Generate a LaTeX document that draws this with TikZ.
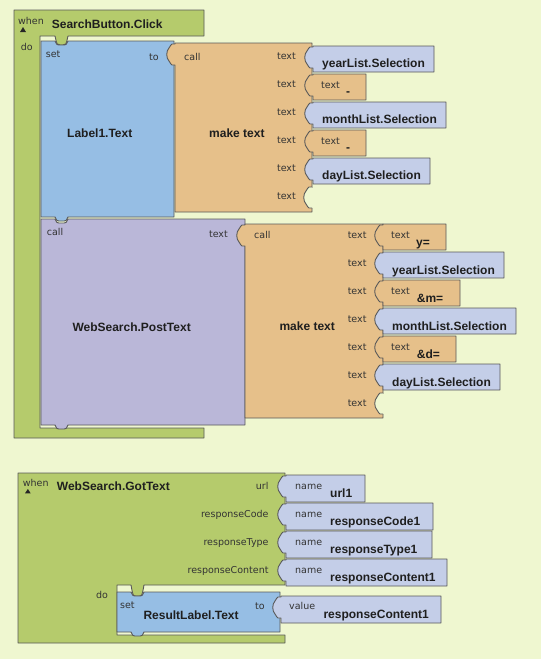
\documentclass[tikz,border=0pt]{standalone}
\usepackage{fontspec}
\newfontfamily\lblfam{DejaVu Sans}
\newfontfamily\ttlfam{Liberation Sans}
\definecolor{bgc}{RGB}{239,247,208}
\definecolor{grn}{RGB}{181,203,108}
\definecolor{setblue}{RGB}{150,190,228}
\definecolor{mkor}{RGB}{230,192,138}
\definecolor{purp}{RGB}{186,183,216}
\definecolor{argb}{RGB}{196,206,232}
\newcommand\lblfont{\lblfam\fontsize{9.5}{11}\selectfont}
\newcommand\ttlfont{\ttlfam\bfseries\fontsize{12}{14}\selectfont}
\tikzset{
  blkline/.style={draw=black!65, line width=0.9pt, line join=round},
  lbl/.style={font=\lblfont, text=black!80, inner sep=0pt},
  ttl/.style={font=\ttlfont, text=black!88, inner sep=0pt},
}
% argument block with left plug: color, x0, y0, x1, y1
\newcommand\argblk[5]{%
  \filldraw[blkline, fill=#1] ({#2},{#3}) -- ({#4},{#3}) -- ({#4},{#5}) -- ({#2},{#5}) -- ({#2},{#3+22})
   -- ({#2-3},{#3+22}) .. controls ({#2-5},{#3+22}) and ({#2-4},{#3+19}) .. ({#2-6},{#3+18})
   .. controls ({#2-9},{#3+15}) and ({#2-9},{#3+8}) .. ({#2-6},{#3+5})
   .. controls ({#2-4},{#3+4}) and ({#2-5},{#3+1}) .. ({#2-3},{#3+1}) -- ({#2},{#3+1}) -- cycle;}
% empty socket cut into a parent's right edge: x0, y0
\newcommand\emptysock[2]{%
  \fill[bgc] ({#2*0+#1},{#2+22}) -- ({#1-3},{#2+22}) .. controls ({#1-5},{#2+22}) and ({#1-4},{#2+19}) .. ({#1-6},{#2+18})
   .. controls ({#1-9},{#2+15}) and ({#1-9},{#2+8}) .. ({#1-6},{#2+5})
   .. controls ({#1-4},{#2+4}) and ({#1-5},{#2+1}) .. ({#1-3},{#2+1}) -- ({#1},{#2+1}) -- cycle;
  \fill[bgc] ({#1-0.5},{#2+1.5}) rectangle ({#1+1.2},{#2+21.5});
  \draw[blkline] ({#1},{#2+22}) -- ({#1-3},{#2+22}) .. controls ({#1-5},{#2+22}) and ({#1-4},{#2+19}) .. ({#1-6},{#2+18})
   .. controls ({#1-9},{#2+15}) and ({#1-9},{#2+8}) .. ({#1-6},{#2+5})
   .. controls ({#1-4},{#2+4}) and ({#1-5},{#2+1}) .. ({#1-3},{#2+1}) -- ({#1},{#2+1});}
% statement block with top notch and bottom tab: color, x0, y0, x1, y1, notch x
\newcommand\stmtblk[6]{%
  \filldraw[blkline, fill=#1] ({#2},{#3}) -- ({#6},{#3}) .. controls ({#6+2},{#3+4}) .. ({#6+4},{#3+4})
   -- ({#6+9},{#3+4}) .. controls ({#6+11},{#3+4}) .. ({#6+13},{#3}) -- ({#4},{#3}) -- ({#4},{#5})
   -- ({#6+13},{#5}) .. controls ({#6+11},{#5+4}) .. ({#6+9},{#5+4}) -- ({#6+4},{#5+4})
   .. controls ({#6+2},{#5+4}) .. ({#6},{#5}) -- ({#2},{#5}) -- cycle;}
\begin{document}
\begin{tikzpicture}[x=1pt,y=-1pt]
\useasboundingbox (0,0) rectangle (541,659);
\fill[bgc] (0,0) rectangle (541,659);

% ===== Event block 1 =====
\filldraw[blkline, fill=grn] (14,10) -- (204,10) -- (204,36) -- (68,36) .. controls (66,45) .. (63,45) -- (60,45)
  .. controls (57,45) .. (55,36) -- (40,36) -- (40,428) -- (204,428) -- (204,438) -- (14,438) -- cycle;
\fill[black!85] (20,32) -- (26,32) -- (23,27) -- cycle;
\node[lbl, anchor=base west] (when1) at (18,24) {when};
\node[ttl, anchor=base west] (ev1) at (51.7,28) {SearchButton.Click};
\node[lbl, anchor=base west] (do1) at (20.7,50.7) {do};

% purple call block
\stmtblk{purp}{41}{219}{245}{425}{55}
% blue set block
\stmtblk{setblue}{41}{41}{174}{217}{55}
\node[lbl, anchor=base west] (set1) at (45.7,57.3) {set};
\node[lbl, anchor=base west] (to1) at (149,60) {to};
\node[ttl, anchor=base west] (lab1) at (67,137.5) {Label1.Text};
\node[lbl, anchor=base west] (call1) at (46.7,235.3) {call};
\node[lbl, anchor=base east] (ptext) at (228,237.7) {text};
\node[ttl, anchor=base west] (post) at (72.3,331.7) {WebSearch.PostText};

% orange make text 1
\argblk{mkor}{175}{43}{312}{212}
\node[lbl, anchor=base west] (call2) at (184,60) {call};
\node[ttl, anchor=base west] (mk1) at (209,137.3) {make text};
\foreach \k in {0,...,5} {
  \node[lbl, anchor=base east] (ta\k) at (296,{59.3+28*\k}) {text};
}
\argblk{argb}{313}{46}{434}{72}
\node[ttl, anchor=base west] (a1) at (322,67.5) {yearList.Selection};
\argblk{mkor}{313}{74}{366}{100}
\node[lbl, anchor=base west] (a2t) at (321,88) {text};
\node[ttl, anchor=base west] (a2) at (346,95.5) {-};
\argblk{argb}{313}{102}{446}{128}
\node[ttl, anchor=base west] (a3) at (322,123.5) {monthList.Selection};
\argblk{mkor}{313}{130}{366}{156}
\node[lbl, anchor=base west] (a4t) at (321,144) {text};
\node[ttl, anchor=base west] (a4) at (346,151.5) {-};
\argblk{argb}{313}{158}{430}{184}
\node[ttl, anchor=base west] (a5) at (322,179.5) {dayList.Selection};
\emptysock{312}{186}

% orange make text 2
\argblk{mkor}{245}{224}{383}{418}
\node[lbl, anchor=base west] (call3) at (254,238.3) {call};
\node[ttl, anchor=base west] (mk2) at (279.3,330) {make text};
\foreach \k in {0,...,6} {
  \node[lbl, anchor=base east] (tb\k) at (366.7,{238.3+28*\k}) {text};
}
\argblk{mkor}{383}{224}{446}{250}
\node[lbl, anchor=base west] (b1t) at (391,238.3) {text};
\node[ttl, anchor=base west] (b1) at (416,246.5) {y=};
\argblk{argb}{383}{252}{504}{278}
\node[ttl, anchor=base west] (b2) at (392,274.3) {yearList.Selection};
\argblk{mkor}{383}{280}{460}{306}
\node[lbl, anchor=base west] (b3t) at (391,294.3) {text};
\node[ttl, anchor=base west] (b3) at (416.7,302.3) {\&m=};
\argblk{argb}{383}{308}{516}{334}
\node[ttl, anchor=base west] (b4) at (392,330.3) {monthList.Selection};
\argblk{mkor}{383}{336}{456}{362}
\node[lbl, anchor=base west] (b5t) at (391,350.3) {text};
\node[ttl, anchor=base west] (b5) at (416.7,358.3) {\&d=};
\argblk{argb}{383}{364}{500}{390}
\node[ttl, anchor=base west] (b6) at (392,386.3) {dayList.Selection};
\emptysock{383}{392}

% ===== Event block 2 =====
\filldraw[blkline, fill=grn] (18,473) -- (285,473) -- (285,585) -- (144,585) .. controls (142,596) .. (139,596) -- (136,596)
  .. controls (133,596) .. (131,585) -- (117,585) -- (117,635) -- (285,635) -- (285,643) -- (18,643) -- cycle;
\fill[black!85] (25,493.3) -- (30.7,493.3) -- (27.85,489) -- cycle;
\node[lbl, anchor=base west] (when2) at (22.7,486.7) {when};
\node[ttl, anchor=base west] (ev2) at (56.7,490) {WebSearch.GotText};
\node[lbl, anchor=base east] (p1) at (268.7,489.3) {url};
\node[lbl, anchor=base east] (p2) at (268.7,517.3) {responseCode};
\node[lbl, anchor=base east] (p3) at (268.7,545.3) {responseType};
\node[lbl, anchor=base east] (p4) at (268.7,573.3) {responseContent};
\node[lbl, anchor=base west] (do2) at (96,598.3) {do};

\stmtblk{setblue}{117}{592}{280}{632}{131}
\node[lbl, anchor=base west] (set2) at (120,608.3) {set};
\node[ttl, anchor=base west] (lab2) at (143.3,619.3) {ResultLabel.Text};
\node[lbl, anchor=base west] (to2) at (255,609.3) {to};

\argblk{argb}{286}{475}{365}{502}
\node[lbl, anchor=base west] (n1t) at (295,489.3) {name};
\node[ttl, anchor=base west] (n1) at (330,497.3) {url1};
\argblk{argb}{286}{503}{433}{530}
\node[lbl, anchor=base west] (n2t) at (295,517.3) {name};
\node[ttl, anchor=base west] (n2) at (330,525.3) {responseCode1};
\argblk{argb}{286}{531}{432}{558}
\node[lbl, anchor=base west] (n3t) at (295,545.3) {name};
\node[ttl, anchor=base west] (n3) at (330,553.3) {responseType1};
\argblk{argb}{286}{559}{447}{586}
\node[lbl, anchor=base west] (n4t) at (295,573.3) {name};
\node[ttl, anchor=base west] (n4) at (330,581.3) {responseContent1};

\argblk{argb}{281}{596}{441}{623}
\node[lbl, anchor=base west] (vt) at (289,609.3) {value};
\node[ttl, anchor=base west] (v) at (323.3,618.3) {responseContent1};
\end{tikzpicture}
\end{document}
